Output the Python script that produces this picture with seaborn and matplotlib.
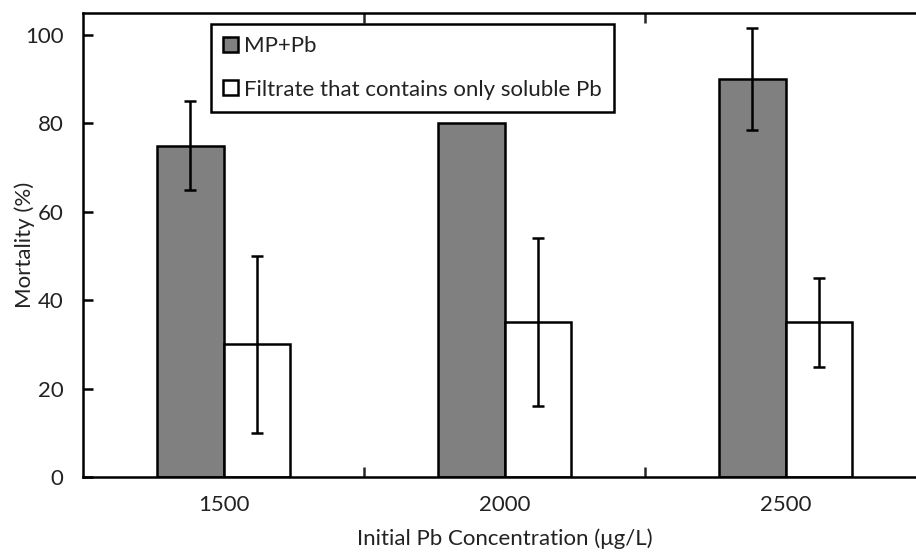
import matplotlib
matplotlib.use("Agg")
import matplotlib.pyplot as plt
import seaborn as sns
import pandas as pd

# ---- data ----
concentrations = ["1500", "2000", "2500"]
series_names = ["MP+Pb", "Filtrate that contains only soluble Pb"]
mp_pb_values = [75, 80, 90]
mp_pb_errors = [10, 0, 11.5]
filtrate_values = [30, 35, 35]
filtrate_errors = [20, 19, 10]
y_ticks = [0, 20, 40, 60, 80, 100]
x_label = "Initial Pb Concentration (μg/L)"
y_label = "Mortality (%)"

sns.set_theme(style="white")
plt.rcParams['font.family'] = ['Lato', 'DejaVu Sans']

FS = 16

df = pd.DataFrame({
    "conc": concentrations * 2,
    "series": [series_names[0]] * 3 + [series_names[1]] * 3,
    "mortality": mp_pb_values + filtrate_values,
    "err": mp_pb_errors + filtrate_errors,
})

fig = plt.figure(figsize=(9.16, 5.54), dpi=100)
ax = fig.add_axes([83 / 916, 1 - 477 / 554, (926 - 83) / 916, (477 - 13) / 554])

sns.barplot(data=df, x="conc", y="mortality", hue="series",
            palette=["#808080", "#ffffff"], width=0.47, saturation=1,
            edgecolor="black", linewidth=1.8, errorbar=None, ax=ax)

# error bars from the data, placed at bar centres
err_lists = [mp_pb_errors, filtrate_errors]
for container, errs in zip(ax.containers, err_lists):
    for bar, e in zip(container, errs):
        if e <= 0:
            continue
        xc = bar.get_x() + bar.get_width() / 2
        ax.errorbar(xc, bar.get_height(), yerr=e, fmt="none", ecolor="black",
                    elinewidth=1.8, capsize=4.5, capthick=1.8, zorder=5)

ax.set_xlim(-0.5, 2.5)
ax.set_ylim(0, 105)
ax.set_yticks(y_ticks)
ax.set_yticklabels([str(t) for t in y_ticks])

ax.set_xticks([0.5, 1.5])
ax.set_xticklabels([])
ax.set_xticks([0, 1, 2], minor=True)
ax.set_xticklabels(concentrations, minor=True)

ax.tick_params(axis="x", which="major", direction="in", length=7, width=1.8,
               top=True, bottom=True)
ax.tick_params(axis="x", which="minor", length=0, pad=13, labelsize=FS,
               colors="#222222")
ax.tick_params(axis="y", which="major", direction="in", length=7, width=1.8,
               left=True, right=True, pad=14, labelsize=FS, colors="black")
for lab in ax.get_yticklabels():
    lab.set_color("#222222")

for sp in ax.spines.values():
    sp.set_visible(True)
    sp.set_color("black")
    sp.set_linewidth(1.8)

ax.set_xlabel(x_label, fontsize=FS, color="#222222", va="top")
ax.xaxis.set_label_coords(0.5, -0.11)
ax.set_ylabel(y_label, fontsize=FS, color="#222222")
ax.yaxis.set_label_coords(-0.057, 0.5)

leg = ax.legend(loc="upper left", bbox_to_anchor=(0.152, 0.976),
                borderaxespad=0, fontsize=FS, frameon=True, fancybox=False,
                edgecolor="black", framealpha=1, handlelength=0.65,
                handleheight=0.65, handletextpad=0.3, labelspacing=1.05,
                borderpad=0.55, title=None)
leg.get_frame().set_linewidth(1.8)
for t in leg.get_texts():
    t.set_color("#222222")

fig.savefig("out.png", dpi=100)
